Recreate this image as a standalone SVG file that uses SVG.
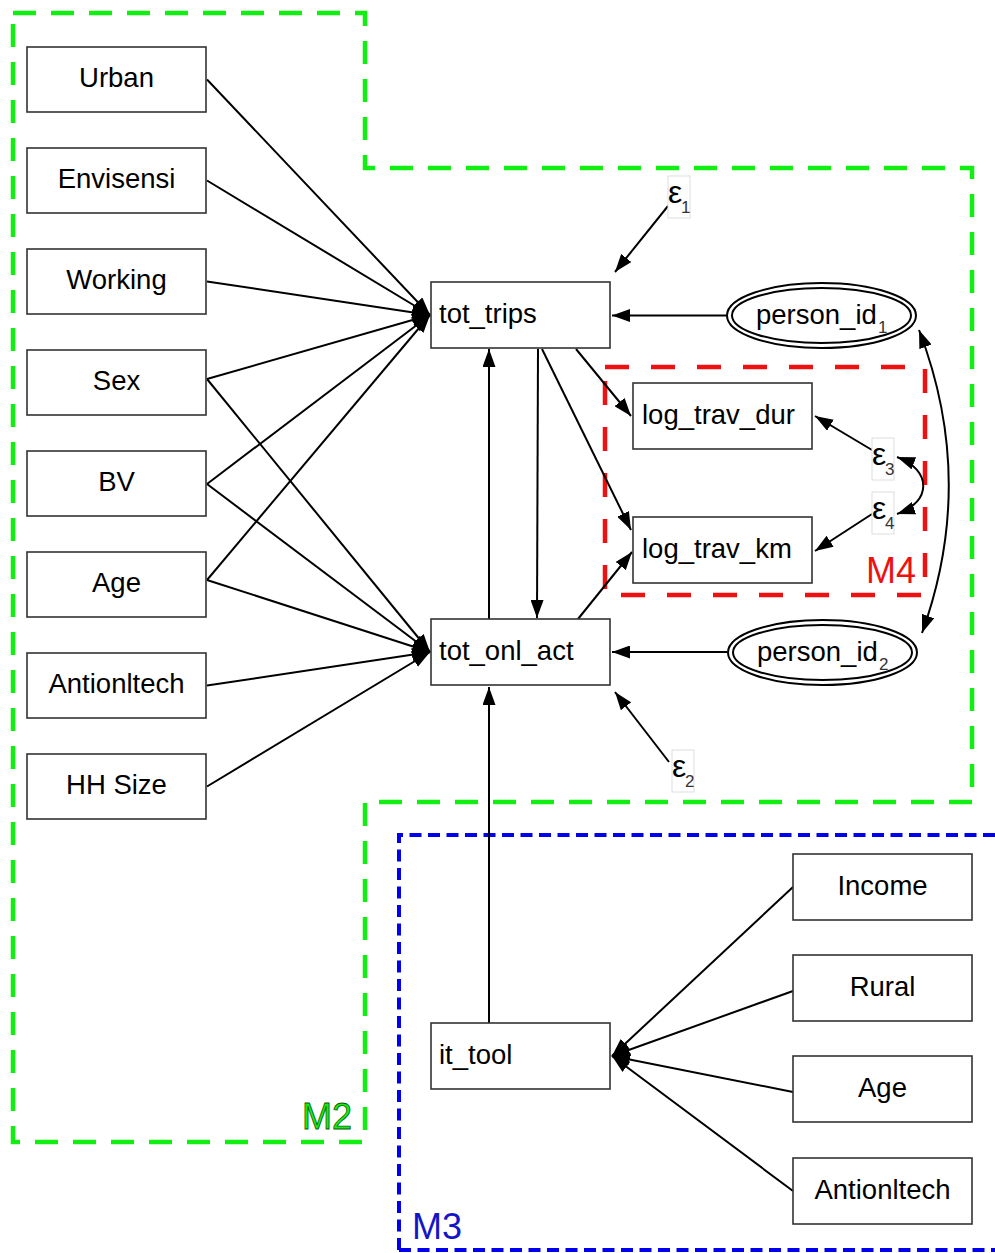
<svg xmlns="http://www.w3.org/2000/svg" width="995" height="1253" viewBox="0 0 995 1253">
<style>
.box{fill:#fff;stroke:#333;stroke-width:1.6}
.lbl{font-family:"Liberation Sans",Arial,sans-serif;font-size:27.5px;fill:#000}
.ctr{text-anchor:middle}
.sub{font-family:"Liberation Sans",Arial,sans-serif;font-size:17px;fill:#333}
.eps{font-family:"Liberation Sans",Arial,sans-serif;font-size:32px;fill:#000}
.ebox{fill:#fff;stroke:#ddd;stroke-width:1}
.ell{fill:#fff;stroke:#000;stroke-width:2}
.con{fill:none;stroke:#000;stroke-width:2}
.grp{font-family:"Liberation Sans",Arial,sans-serif;font-size:36px}
</style>
<defs>
<marker id="ah" viewBox="0 0 18 13" refX="18" refY="6.5" markerWidth="18" markerHeight="13" markerUnits="userSpaceOnUse" orient="auto-start-reverse">
<path d="M0,0 L18,6.5 L0,13 z" fill="#000"/>
</marker>
</defs>
<rect width="995" height="1253" fill="#fff"/>

<g id="groups">
<path d="M13,13 H365 V168 H972 V802 H365 V1142 H13 Z" fill="none" stroke="#11ee11" stroke-width="4.5" stroke-dasharray="23,15"/>
<path d="M399,1250 V835 H995 M399,1250 H995" fill="none" stroke="#0000ee" stroke-width="4" stroke-dasharray="12,6.5"/>
<rect x="605" y="367" width="320" height="228" fill="none" stroke="#ee1111" stroke-width="4.5" stroke-dasharray="24,22"/>
<text class="grp" x="302" y="1129" fill="#11ee11" stroke="#0a5a0a" stroke-width="0.8">M2</text>
<text class="grp" x="412" y="1239" fill="#1515c8">M3</text>
<text class="grp" x="866" y="583" fill="#ee1111">M4</text>
</g>

<g id="connectors">
<line class="con" x1="207" y1="79.5" x2="430" y2="315" marker-end="url(#ah)"/>
<line class="con" x1="207" y1="180.5" x2="430" y2="315" marker-end="url(#ah)"/>
<line class="con" x1="207" y1="281.5" x2="430" y2="315" marker-end="url(#ah)"/>
<line class="con" x1="207" y1="379" x2="430" y2="315" marker-end="url(#ah)"/>
<line class="con" x1="207" y1="379" x2="430" y2="652" marker-end="url(#ah)"/>
<line class="con" x1="207" y1="484" x2="430" y2="315" marker-end="url(#ah)"/>
<line class="con" x1="207" y1="484" x2="430" y2="652" marker-end="url(#ah)"/>
<line class="con" x1="207" y1="580" x2="430" y2="315" marker-end="url(#ah)"/>
<line class="con" x1="207" y1="580" x2="430" y2="652" marker-end="url(#ah)"/>
<line class="con" x1="207" y1="685.5" x2="430" y2="652" marker-end="url(#ah)"/>
<line class="con" x1="207" y1="786.5" x2="430" y2="652" marker-end="url(#ah)"/>

<line class="con" x1="489" y1="619" x2="489" y2="349" marker-end="url(#ah)"/>
<line class="con" x1="538" y1="349" x2="537" y2="618" marker-end="url(#ah)"/>
<line class="con" x1="576" y1="349" x2="631" y2="416" marker-end="url(#ah)"/>
<line class="con" x1="542" y1="349" x2="631" y2="530" marker-end="url(#ah)"/>
<line class="con" x1="578" y1="619" x2="632" y2="552" marker-end="url(#ah)"/>
<line class="con" x1="489" y1="1023" x2="489" y2="687" marker-end="url(#ah)"/>

<line class="con" x1="668" y1="206" x2="615" y2="272" marker-end="url(#ah)"/>
<line class="con" x1="669" y1="762" x2="615" y2="692" marker-end="url(#ah)"/>
<line class="con" x1="727" y1="315.5" x2="612" y2="315.5" marker-end="url(#ah)"/>
<line class="con" x1="727" y1="652" x2="612" y2="652" marker-end="url(#ah)"/>
<line class="con" x1="872" y1="450" x2="815" y2="416" marker-end="url(#ah)"/>
<line class="con" x1="872" y1="514" x2="815" y2="551" marker-end="url(#ah)"/>
<path class="con" d="M897,457 C932,470 932,502 897,514" marker-start="url(#ah)" marker-end="url(#ah)"/>
<path class="con" d="M919,330 Q977,481 922,633" marker-start="url(#ah)" marker-end="url(#ah)"/>

<line class="con" x1="793" y1="887" x2="612" y2="1056" marker-end="url(#ah)"/>
<line class="con" x1="793" y1="991" x2="612" y2="1056" marker-end="url(#ah)"/>
<line class="con" x1="793" y1="1092" x2="612" y2="1056" marker-end="url(#ah)"/>
<line class="con" x1="793" y1="1191" x2="612" y2="1056" marker-end="url(#ah)"/>
</g>

<g id="n-urban"><rect class="box" x="27" y="47" width="179" height="65"/><text class="lbl ctr" x="116.5" y="87">Urban</text></g>
<g id="n-envisensi"><rect class="box" x="27" y="148" width="179" height="65"/><text class="lbl ctr" x="116.5" y="188">Envisensi</text></g>
<g id="n-working"><rect class="box" x="27" y="249" width="179" height="65"/><text class="lbl ctr" x="116.5" y="289">Working</text></g>
<g id="n-sex"><rect class="box" x="27" y="350" width="179" height="65"/><text class="lbl ctr" x="116.5" y="390">Sex</text></g>
<g id="n-bv"><rect class="box" x="27" y="451" width="179" height="65"/><text class="lbl ctr" x="116.5" y="491">BV</text></g>
<g id="n-age"><rect class="box" x="27" y="552" width="179" height="65"/><text class="lbl ctr" x="116.5" y="592">Age</text></g>
<g id="n-antionltech"><rect class="box" x="27" y="653" width="179" height="65"/><text class="lbl ctr" x="116.5" y="693">Antionltech</text></g>
<g id="n-hhsize"><rect class="box" x="27" y="754" width="179" height="65"/><text class="lbl ctr" x="116.5" y="794">HH Size</text></g>

<g id="n-tot_trips"><rect class="box" x="431" y="282" width="179" height="66"/><text class="lbl" x="439" y="323">tot_trips</text></g>
<g id="n-tot_onl_act"><rect class="box" x="431" y="619" width="179" height="66"/><text class="lbl" x="439" y="660">tot_onl_act</text></g>
<g id="n-it_tool"><rect class="box" x="431" y="1023" width="179" height="66"/><text class="lbl" x="439" y="1064">it_tool</text></g>
<g id="n-log_trav_dur"><rect class="box" x="633" y="383" width="179" height="66"/><text class="lbl" x="642" y="424">log_trav_dur</text></g>
<g id="n-log_trav_km"><rect class="box" x="633" y="517" width="179" height="66"/><text class="lbl" x="642" y="558">log_trav_km</text></g>

<g id="n-person_id1">
<ellipse class="ell" cx="821.5" cy="315.5" rx="94.5" ry="32.5"/>
<ellipse class="ell" cx="821.5" cy="315.5" rx="89.5" ry="27.5"/>
<text class="lbl" x="756" y="324">person_id</text><text class="sub" x="878" y="333">1</text>
</g>
<g id="n-person_id2">
<ellipse class="ell" cx="822.5" cy="652.5" rx="94.5" ry="32.5"/>
<ellipse class="ell" cx="822.5" cy="652.5" rx="89.5" ry="27.5"/>
<text class="lbl" x="757" y="661">person_id</text><text class="sub" x="879" y="670">2</text>
</g>

<g id="n-eps1"><rect class="ebox" x="668" y="176" width="22" height="42"/><text class="eps" x="668" y="203">ε</text><text class="sub" x="681" y="213">1</text></g>
<g id="n-eps2"><rect class="ebox" x="672" y="750" width="22" height="42"/><text class="eps" x="672" y="777">ε</text><text class="sub" x="685" y="787">2</text></g>
<g id="n-eps3"><rect class="ebox" x="872" y="438" width="22" height="42"/><text class="eps" x="872" y="465">ε</text><text class="sub" x="885" y="475">3</text></g>
<g id="n-eps4"><rect class="ebox" x="872" y="492" width="22" height="42"/><text class="eps" x="872" y="519">ε</text><text class="sub" x="885" y="529">4</text></g>

<g id="n-income"><rect class="box" x="793" y="854" width="179" height="66"/><text class="lbl ctr" x="882.5" y="895">Income</text></g>
<g id="n-rural"><rect class="box" x="793" y="955" width="179" height="66"/><text class="lbl ctr" x="882.5" y="996">Rural</text></g>
<g id="n-age2"><rect class="box" x="793" y="1056" width="179" height="66"/><text class="lbl ctr" x="882.5" y="1097">Age</text></g>
<g id="n-antionltech2"><rect class="box" x="793" y="1158" width="179" height="66"/><text class="lbl ctr" x="882.5" y="1199">Antionltech</text></g>
</svg>
